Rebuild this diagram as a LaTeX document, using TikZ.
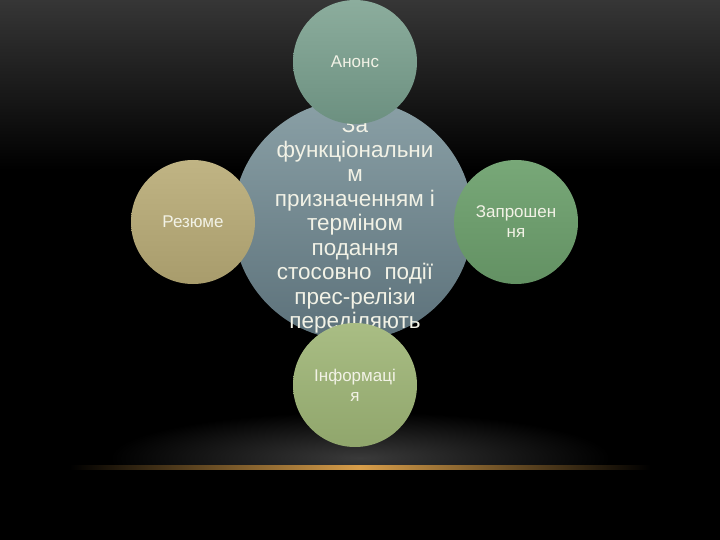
\documentclass[tikz,border=0pt]{standalone}
\usepackage{fontspec}
\setmainfont{Liberation Sans}
\usetikzlibrary{shapes.geometric}
\definecolor{txt}{HTML}{F2F2E6}
\definecolor{anA}{HTML}{8CAD9D}\definecolor{anB}{HTML}{6C9080}
\definecolor{ceA}{HTML}{8AA0A6}\definecolor{ceB}{HTML}{5C717A}
\definecolor{reA}{HTML}{C0B484}\definecolor{reB}{HTML}{A89C6C}
\definecolor{zaA}{HTML}{78A878}\definecolor{zaB}{HTML}{639163}
\definecolor{inA}{HTML}{A9BD84}\definecolor{inB}{HTML}{90A66C}
\definecolor{bgtop}{HTML}{363636}
\definecolor{glow}{HTML}{3A3A3A}
\definecolor{gold}{HTML}{D89E4A}
\tikzset{
  bubble/.style={circle, inner sep=0pt, text=txt, align=center, font=\fontsize{17}{20}\selectfont},
  smallb/.style={bubble, minimum size=124pt, text width=84pt},
}
\begin{document}
\begin{tikzpicture}[x=1pt,y=-1pt]
\useasboundingbox (0,0) rectangle (720,540);
\fill[black] (0,0) rectangle (720,540);
\shade[top color=bgtop, bottom color=black] (0,0) rectangle (720,170);
\shade[inner color=glow, outer color=black] (360,458) ellipse (250 and 46);
\fill[black] (0,467) rectangle (720,540);
\shade[left color=black, right color=gold] (70,465) rectangle (360,469);
\shade[left color=gold, right color=black] (360,465) rectangle (650,469);
% centre
\node[bubble, minimum size=240pt, top color=ceA, bottom color=ceB] (centre) at (353,220) {};
\node[text=txt, align=center, font=\fontsize{22.5}{24.5}\selectfont] (ctext) at (355,225)
  {За\\функціональни\\м\\призначенням і\\терміном\\подання\\стосовно\hspace{0.3em} події\\прес-релізи\\переділяють};
% satellites
\node[smallb, top color=anA, bottom color=anB] (anons) at (355,62) {Анонс};
\node[smallb, top color=reA, bottom color=reB] (rezume) at (193,222) {Резюме};
\node[smallb, top color=zaA, bottom color=zaB] (zapr) at (516,222) {Запрошен\\ня};
\node[smallb, top color=inA, bottom color=inB] (info) at (355,385) {Інформаці\\я};
\end{tikzpicture}
\end{document}
